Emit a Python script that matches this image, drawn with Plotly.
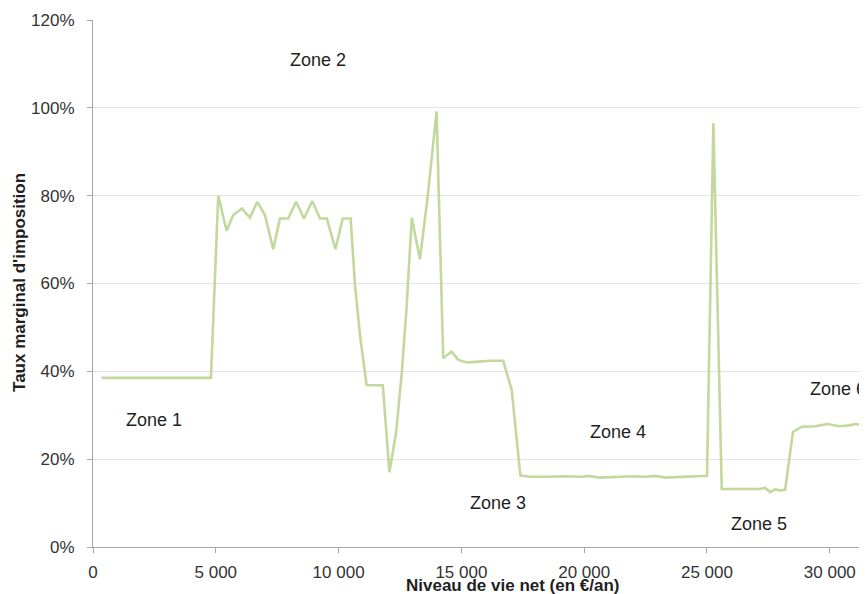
import plotly.graph_objects as go

# Niveau de vie net (€/an) and taux marginal d'imposition (fraction)
niveau_de_vie = [350, 4800, 5100, 5440, 5710, 6060, 6390, 6690, 7000, 7340,
                 7610, 7950, 8270, 8590, 8930, 9240, 9520, 9870, 10170, 10490,
                 10670, 10870, 11140, 11800, 12070, 12340, 12570, 12770, 12980, 13310,
                 13610, 13990, 14260, 14600, 14870, 15220, 15700, 16200, 16700, 17050,
                 17400, 17800, 18500, 19300, 19900, 20200, 20600, 21300, 22000, 22500,
                 22900, 23300, 24000, 24600, 25000, 25260, 25600, 27160, 27360, 27570,
                 27770, 27970, 28180, 28500, 28860, 29400, 29900, 30400, 30800, 31030,
                 31515]
taux_marginal = [0.385, 0.385, 0.800, 0.720, 0.756, 0.771, 0.750, 0.786, 0.756, 0.678,
                 0.748, 0.748, 0.786, 0.748, 0.788, 0.748, 0.748, 0.678, 0.748, 0.748,
                 0.595, 0.483, 0.369, 0.368, 0.170, 0.260, 0.395, 0.547, 0.750, 0.655,
                 0.790, 0.992, 0.430, 0.445, 0.426, 0.420, 0.422, 0.424, 0.424, 0.357,
                 0.163, 0.160, 0.160, 0.161, 0.160, 0.162, 0.158, 0.160, 0.161, 0.160,
                 0.162, 0.158, 0.160, 0.161, 0.162, 0.965, 0.132, 0.132, 0.135, 0.125,
                 0.131, 0.129, 0.130, 0.262, 0.274, 0.275, 0.280, 0.275, 0.277, 0.280,
                 0.276]

zone_labels = ["Zone 1", "Zone 2", "Zone 3", "Zone 4", "Zone 5", "Zone 6"]
zone_x = [2492, 9141, 16470, 21356, 27130, 30334]
zone_y = [0.289, 1.108, 0.101, 0.261, 0.0535, 0.360]

x_ticks = [0, 5000, 10000, 15000, 20000, 25000, 30000]
y_ticks = [0, 0.2, 0.4, 0.6, 0.8, 1.0, 1.2]

FONT = "Liberation Sans, Arial, sans-serif"

fig = go.Figure()
fig.add_trace(go.Scatter(
    x=niveau_de_vie, y=taux_marginal, mode="lines",
    line=dict(color="#c3d89c", width=2.6),
    showlegend=False, cliponaxis=True,
))

annotations = []
for t, xv, yv in zip(zone_labels, zone_x, zone_y):
    annotations.append(dict(x=xv, y=yv, xref="x", yref="y", text=t, showarrow=False,
                            font=dict(family=FONT, size=18, color="#1f1f1f"),
                            xanchor="center", yanchor="middle"))
annotations.append(dict(x=0.542, y=-0.073, xref="paper", yref="paper",
                        text="<b>Niveau de vie net (en €/an)</b>", showarrow=False,
                        font=dict(family=FONT, size=17, color="#1f1f1f"),
                        xanchor="center", yanchor="middle"))
annotations.append(dict(x=-0.0943, y=0.501, xref="paper", yref="paper",
                        text="<b>Taux marginal d'imposition</b>", showarrow=False,
                        textangle=-90,
                        font=dict(family=FONT, size=17, color="#1f1f1f"),
                        xanchor="center", yanchor="middle"))

# The page body adds an 8px offset; the figure is sized so the plot area
# lands at the reference position (left 93, top 20, bottom 547, right edge 867).
fig.update_layout(
    width=859, height=586,
    margin=dict(l=85, r=0, t=12, b=47, pad=0),
    paper_bgcolor="white", plot_bgcolor="white",
    separators=", ",
    font=dict(family=FONT, size=17, color="#333333"),
    annotations=annotations,
    xaxis=dict(range=[0, 31515], tickvals=x_ticks, tickformat=",d",
               showgrid=False, zeroline=False, showline=True,
               linecolor="#a6a6a6", linewidth=1,
               ticks="outside", ticklen=5, tickcolor="#a6a6a6",
               ticklabelstandoff=5,
               tickfont=dict(family=FONT, size=17, color="#333333")),
    yaxis=dict(range=[0, 1.2], tickvals=y_ticks, tickformat=".0%",
               showgrid=True, gridcolor="#e3e3e3", gridwidth=1,
               zeroline=False, showline=True,
               linecolor="#a6a6a6", linewidth=1,
               ticks="outside", ticklen=5, tickcolor="#a6a6a6",
               ticklabelstandoff=9,
               tickfont=dict(family=FONT, size=17, color="#333333")),
)

fig.write_html("out.html")
